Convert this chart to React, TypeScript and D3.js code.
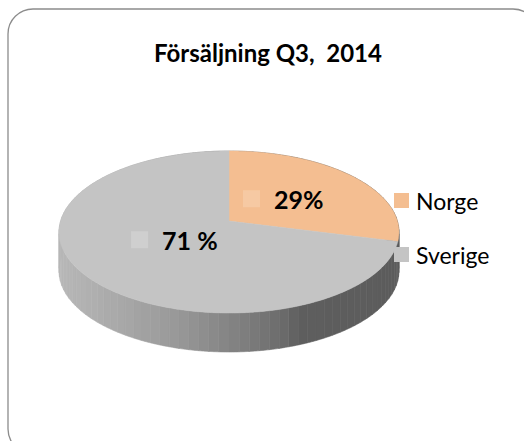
import React from 'react';
import * as d3 from 'd3';

const categories = ['Norge', 'Sverige'];
const values = [29, 71];
const dataLabels = ['29%', '71 %'];
const title = 'Försäljning Q3,  2014';
const topColors = ['#F4BE91', '#C4C4C4'];
const keyColors = ['#F6C9A3', '#CFCFCF'];

export default function App() {
  const W = 524, H = 441;
  const cx = 229, cy = 221, A = 168.4, B = 79.5, p = 0.1358, depth = 39;
  const proj = (a: number, r = 1): [number, number] => {
    const u = r * Math.sin(a), v = r * Math.cos(a);
    const d = 1 + p * v;
    return [cx + (A * u) / d, cy - (B * v) / d];
  };
  const pie = d3.pie<number>().sort(null).startAngle(0).endAngle(2 * Math.PI);
  const arcs = pie(values);

  const topPath = (s: number, e: number) => {
    const path = d3.path();
    path.moveTo(cx, cy);
    const n = Math.max(2, Math.ceil((e - s) / 0.01));
    for (let i = 0; i <= n; i++) {
      const [x, y] = proj(s + ((e - s) * i) / n);
      path.lineTo(x, y);
    }
    path.closePath();
    return path.toString();
  };

  const sideColor = d3
    .scaleLinear<string>()
    .domain([60, 120, 170, 240, 285, 300, 400])
    .range(['#b8b8b8', '#a8a8a8', '#9b9b9b', '#808080', '#6a6a6a', '#5e5e5e', '#5c5c5c'])
    .clamp(true);

  const nSeg = 120;
  const segs: { d: string; c: string; v: number }[] = [];
  for (let i = 0; i < nSeg; i++) {
    const s = (i / nSeg) * 2 * Math.PI;
    const e = ((i + 1) / nSeg) * 2 * Math.PI;
    const sub = 6;
    const pts: [number, number][] = [];
    for (let k = 0; k <= sub; k++) pts.push(proj(s + ((e - s) * k) / sub));
    const path = d3.path();
    path.moveTo(pts[0][0], pts[0][1]);
    pts.forEach((q) => path.lineTo(q[0], q[1]));
    for (let k = pts.length - 1; k >= 0; k--) path.lineTo(pts[k][0], pts[k][1] + depth);
    path.closePath();
    const mid = proj((s + e) / 2);
    segs.push({ d: path.toString(), c: sideColor(mid[0]), v: Math.cos((s + e) / 2) });
  }
  segs.sort((a, b) => b.v - a.v);

  const labelR = 0.42;
  const legendY = d3.scalePoint<string>().domain(categories).range([200.5, 254.5]);

  const font = 'Lato, "Open Sans", sans-serif';

  return (
    <svg width={W} height={H} style={{ position: 'absolute', left: 0, top: 0 }}>
      <rect x={0} y={0} width={W} height={H} fill="#ffffff" />
      <rect x={8} y={9} width={530} height={445} rx={25} ry={25} fill="#ffffff" stroke="#8c8c8c" strokeWidth={1.3} />
      <text x={268} y={62} textAnchor="middle" fontFamily={font} fontWeight="bold" fontSize={24} fill="#000" style={{ whiteSpace: 'pre' }}>
        {title}
      </text>
      {segs.map((s, i) => (
        <path key={'s' + i} d={s.d} fill={s.c} stroke={s.c} strokeWidth={0.6} />
      ))}
      {arcs.map((a, i) => (
        <path key={'t' + i} d={topPath(a.startAngle, a.endAngle)} fill={topColors[i]} stroke={topColors[i]} strokeWidth={0.5} />
      ))}
      {arcs.map((a, i) => {
        const [lx, ly] = proj((a.startAngle + a.endAngle) / 2, labelR);
        return (
          <g key={'l' + i} transform={`translate(${lx},${ly})`}>
            <rect x={-40} y={-11} width={17} height={17} fill={keyColors[i]} />
            <text x={-9} y={8} fontFamily={font} fontWeight="bold" fontSize={25} fill="#000" style={{ whiteSpace: 'pre' }}>
              {dataLabels[i]}
            </text>
          </g>
        );
      })}
      {categories.map((c, i) => (
        <g key={'g' + i}>
          <rect x={394} y={legendY(c)! - 7.5} width={15} height={15} fill={topColors[i]} />
          <text x={416} y={legendY(c)! + 9} fontFamily={font} fontSize={23} fill="#000">
            {c}
          </text>
        </g>
      ))}
    </svg>
  );
}
